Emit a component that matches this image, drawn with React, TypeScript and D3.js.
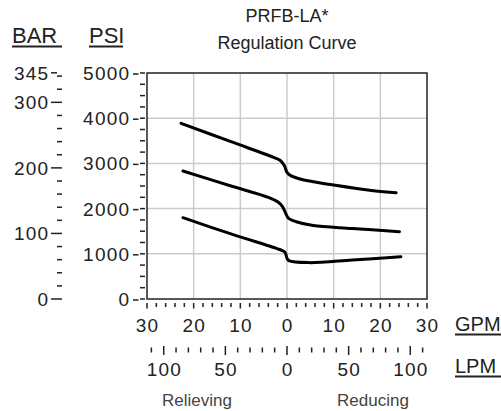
import React from "react";
import * as d3 from "d3";

const title = ["PRFB-LA*", "Regulation Curve"];
const psiTicks = [0, 1000, 2000, 3000, 4000, 5000];
const barTicks = [0, 100, 200, 300, 345];
const gpmTicks = [-30, -20, -10, 0, 10, 20, 30];
const lpmTicks = [-100, -50, 0, 50, 100];
const gridGpm = [-20, -10, 0, 10, 20];
const gridPsi = [1000, 2000, 3000, 4000];

const curveHigh: [number, number][] = [
  [-22.7, 3887], [-12, 3480], [-3, 3140], [-1.5, 3070], [-0.6, 2960], [0, 2800],
  [0.8, 2730], [3, 2650], [6, 2590], [10, 2520], [18.5, 2396], [23.4, 2352],
];
const curveMid: [number, number][] = [
  [-22.3, 2832], [-12, 2500], [-4, 2250], [-2, 2150], [-1, 2050], [-0.3, 1900],
  [0.3, 1790], [2, 1710], [5.6, 1625], [14, 1560], [24.1, 1489],
];
const curveLow: [number, number][] = [
  [-22.3, 1799], [-12, 1440], [-2, 1110], [-1, 1070], [-0.4, 1030], [0, 900],
  [0.4, 850], [4.6, 805], [14, 862], [24.4, 936],
];
const curves = [curveHigh, curveMid, curveLow];

const PSI_PER_BAR = 14.5038;
const GPM_PER_LPM = 0.264172;

export default function App() {
  const W = 501, H = 411;
  const x = d3.scaleLinear().domain([-30, 30]).range([147, 427]);
  const y = d3.scaleLinear().domain([0, 5000]).range([299, 73]);
  const yBar = (b: number) => y(b * PSI_PER_BAR);
  const xLpm = (l: number) => x(l * GPM_PER_LPM);
  const line = d3.line<[number, number]>().x(d => x(d[0])).y(d => y(d[1])).curve(d3.curveCatmullRom.alpha(0.5));
  const font = "'Liberation Sans', Arial, sans-serif";
  const ink = "#222";
  const ls = 1.2;

  const psiMinor = d3.range(0, 5001, 250);
  const barMinor = d3.range(0, 341, 20);
  const gpmMinor = d3.range(-30, 31, 2);
  const lpmMinor = d3.range(-110, 111, 10);

  return (
    <svg width={W} height={H} style={{ position: "absolute", left: 0, top: 0, background: "#fff" }} fontFamily={font}>
      {/* title */}
      <text x={287} y={22} textAnchor="middle" fontSize={18} fill={ink}>{title[0]}</text>
      <text x={287} y={49} textAnchor="middle" fontSize={18} fill={ink}>{title[1]}</text>

      {/* unit headers */}
      <text x={12} y={43} fontSize={22} fill={ink}>BAR</text>
      <line x1={12} x2={62} y1={46.5} y2={46.5} stroke={ink} strokeWidth={2} />
      <text x={89} y={43} fontSize={22} fill={ink}>PSI</text>
      <line x1={89} x2={123} y1={46.5} y2={46.5} stroke={ink} strokeWidth={2} />

      {/* grid */}
      {gridGpm.map(g => (
        <line key={"gx" + g} x1={x(g)} x2={x(g)} y1={y(0)} y2={y(5000)} stroke="#cccccc" strokeWidth={1.5} />
      ))}
      {gridPsi.map(p => (
        <line key={"gy" + p} x1={x(-30)} x2={x(30)} y1={y(p)} y2={y(p)} stroke="#cccccc" strokeWidth={1.5} />
      ))}

      {/* frame */}
      <rect x={x(-30)} y={y(5000)} width={x(30) - x(-30)} height={y(0) - y(5000)} fill="none" stroke={ink} strokeWidth={1.5} />

      {/* curves */}
      {curves.map((c, i) => (
        <path key={"c" + i} d={line(c) || ""} fill="none" stroke="#000" strokeWidth={3} strokeLinejoin="round" strokeLinecap="round" />
      ))}

      {/* PSI axis */}
      {psiMinor.map(p => (
        <line key={"pm" + p} x1={140} x2={145} y1={y(p)} y2={y(p)} stroke={ink} strokeWidth={1.5} />
      ))}
      {psiTicks.map(p => (
        <g key={"pt" + p}>
          <line x1={133} x2={138.5} y1={y(p) + 1} y2={y(p) + 1} stroke={ink} strokeWidth={1.5} />
          <text x={129 + ls} y={y(p) + 7} textAnchor="end" fontSize={19} letterSpacing={ls} fill={ink}>{p}</text>
        </g>
      ))}

      {/* BAR axis */}
      {barMinor.map(b => (
        <line key={"bm" + b} x1={57} x2={62} y1={yBar(b)} y2={yBar(b)} stroke={ink} strokeWidth={1.5} />
      ))}
      {barTicks.map(b => (
        <g key={"bt" + b}>
          <line x1={51} x2={57} y1={yBar(b)} y2={yBar(b)} stroke={ink} strokeWidth={1.5} />
          <text x={48 + ls} y={yBar(b) + 7} textAnchor="end" fontSize={19} letterSpacing={ls} fill={ink}>{b}</text>
        </g>
      ))}

      {/* GPM axis */}
      {gpmMinor.map(g => (
        <line key={"gm" + g} x1={x(g)} x2={x(g)} y1={303} y2={g % 10 === 0 ? 308.5 : 307} stroke={ink} strokeWidth={1.5} />
      ))}
      {gpmTicks.map(g => (
        <text key={"gl" + g} x={x(g) + ls / 2} y={332} textAnchor="middle" fontSize={19} letterSpacing={ls} fill={ink}>{Math.abs(g)}</text>
      ))}
      <text x={455} y={331} fontSize={20} fill={ink}>GPM</text>
      <line x1={455} x2={501} y1={334.5} y2={334.5} stroke={ink} strokeWidth={2} />

      {/* LPM axis */}
      {lpmMinor.map(l => (
        <line key={"lm" + l} x1={xLpm(l)} x2={xLpm(l)} y1={l % 50 === 0 ? 346 : 347.5} y2={l % 50 === 0 ? 355 : 352.5} stroke={ink} strokeWidth={1.5} />
      ))}
      {lpmTicks.map(l => (
        <text key={"ll" + l} x={xLpm(l) + ls / 2} y={376} textAnchor="middle" fontSize={19} letterSpacing={ls} fill={ink}>{Math.abs(l)}</text>
      ))}
      <text x={455} y={373} fontSize={20} fill={ink}>LPM</text>
      <line x1={455} x2={501} y1={376.5} y2={376.5} stroke={ink} strokeWidth={2} />

      {/* direction labels */}
      <text x={197} y={406} textAnchor="middle" fontSize={17} fill="#444">Relieving</text>
      <text x={373} y={406} textAnchor="middle" fontSize={17} fill="#444">Reducing</text>
    </svg>
  );
}
